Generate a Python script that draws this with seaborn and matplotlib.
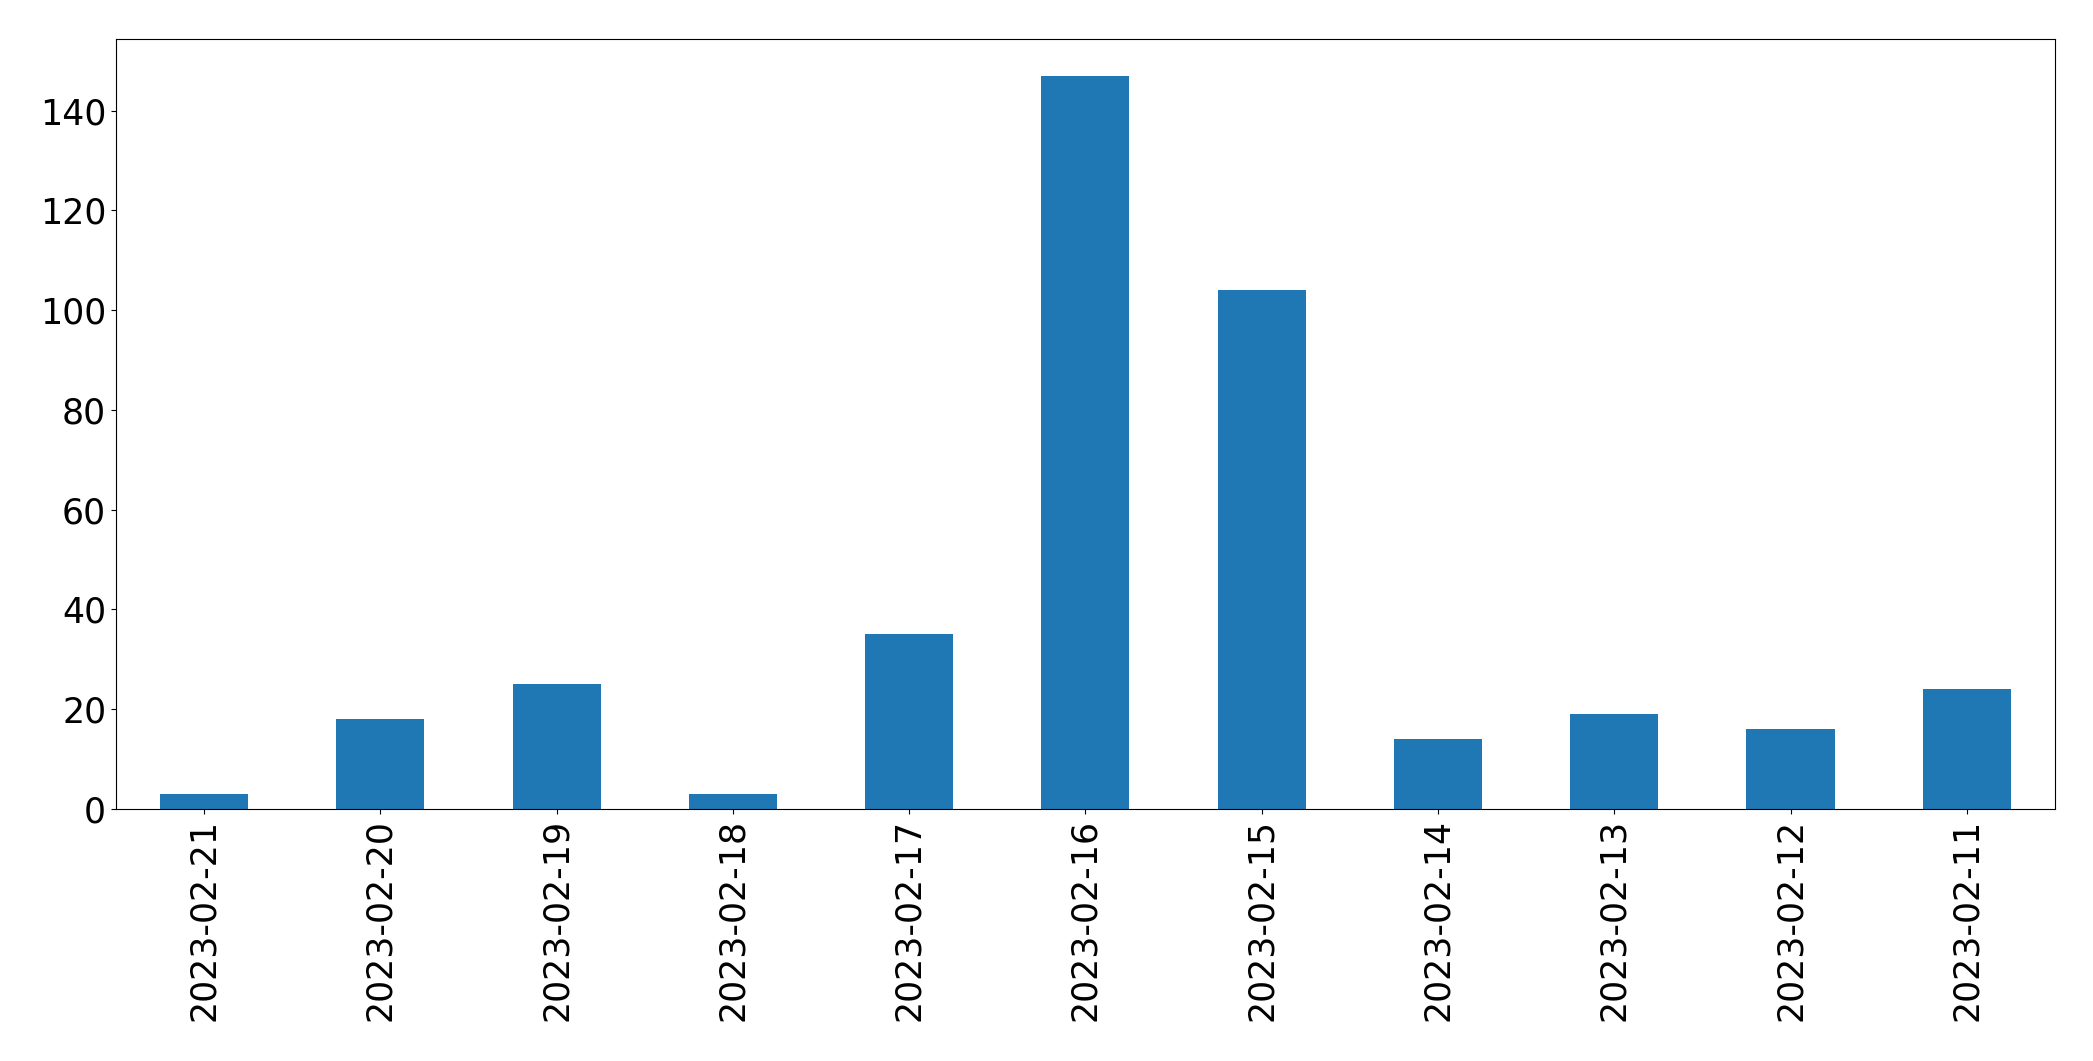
import numpy as np
import pandas as pd
import matplotlib
matplotlib.use("Agg")
import matplotlib.pyplot as plt
import seaborn as sns

# daily counts, newest first (as in the source chart)
dates = ["2023-02-21", "2023-02-20", "2023-02-19", "2023-02-18", "2023-02-17",
         "2023-02-16", "2023-02-15", "2023-02-14", "2023-02-13", "2023-02-12",
         "2023-02-11"]
counts = [3, 18, 25, 3, 35, 147, 104, 14, 19, 16, 24]

df = pd.DataFrame({"date": dates, "count": counts})

fig, ax = plt.subplots(figsize=(20.93, 10.61), dpi=100)
fig.subplots_adjust(left=0.0554, right=0.9818, top=0.9632, bottom=0.2375)

sns.barplot(data=df, x="date", y="count", order=dates, color="#1f77b4",
            saturation=1, width=0.5, linewidth=0, ax=ax)

ax.set_xlabel("")
ax.set_ylabel("")
ax.set_xlim(-0.5, len(dates) - 0.5)
ax.set_ylim(0, max(counts) * 1.05)
ax.set_yticks(np.arange(0, 141, 20))
ax.tick_params(axis="both", labelsize=25)
ax.tick_params(axis="x", labelrotation=90)

fig.savefig("out.png", dpi=100)
